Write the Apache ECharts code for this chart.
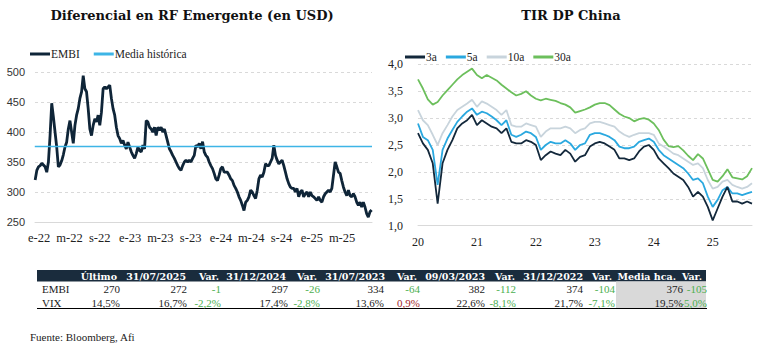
<!DOCTYPE html>
<html><head><meta charset="utf-8">
<script src="https://cdn.jsdelivr.net/npm/echarts@6/dist/echarts.min.js"></script>
<style>html,body{margin:0;padding:0;background:#fff}#c{width:757px;height:362px}</style>
</head><body><div id="c"></div>
<script>
// ---------- Left chart: EMBI spread ----------
const embiTickLabels = ['e-22','m-22','s-22','e-23','m-23','s-23','e-24','m-24','s-24','e-25','m-25'];
const embiTickMonths = [0,4,8,12,16,20,24,28,32,36,40];
const embiFirstMonth = -0.53;   // mid-Dec 2021
const embiLastMonth = 43.9;     // mid-Aug 2025
const embiValues = [
320,336,342,344,348,345,342,333,350,394,448,425,400,375,342,345,352,362,375,383,405,419,400,381,
411,428,439,456,467,494,472,467,439,405,394,411,422,417,428,411,433,472,475,472,475,478,456,439,
428,408,394,389,381,386,378,372,383,375,367,361,356,364,375,369,367,378,372,419,417,408,405,400,
408,394,408,403,408,400,405,394,383,372,367,361,356,350,344,339,336,344,350,353,350,353,350,356,
361,378,375,381,372,384,367,361,358,350,344,339,331,322,319,328,339,342,333,333,333,328,322,319,
311,306,300,292,286,278,269,283,286,292,303,300,294,289,303,322,328,325,333,347,344,344,350,356,
378,361,353,347,350,353,344,333,322,314,308,306,306,300,306,292,300,303,292,297,300,292,300,294,
292,289,286,292,286,283,292,297,300,303,300,306,328,350,342,333,331,319,308,300,294,303,294,292,
297,292,283,278,283,275,283,275,264,258,267,270
];
const mediaHistorica = 376;

// ---------- Right chart: China government bond yields ----------
const tirTickLabels = ['20','21','22','23','24','25'];
const tirTickMonths = [0,12,24,36,48,60];
const tir3a = [2.72,2.53,2.41,2.16,1.41,2.16,2.41,2.59,2.81,2.90,2.96,3.06,2.87,2.96,2.90,2.84,2.81,2.72,2.81,2.56,
2.53,2.53,2.59,2.56,2.50,2.22,2.31,2.38,2.34,2.31,2.41,2.34,2.19,2.28,2.31,2.47,2.53,2.56,2.53,2.47,
2.41,2.25,2.25,2.22,2.25,2.38,2.47,2.50,2.41,2.25,2.16,2.07,1.97,1.91,1.85,1.72,1.54,1.63,1.54,1.35,
1.10,1.32,1.54,1.72,1.45,1.45,1.41,1.45,1.41];
const tir5a = [2.90,2.65,2.59,2.41,1.76,2.41,2.62,2.78,2.93,3.03,3.12,3.18,3.06,3.12,3.09,3.03,2.96,2.87,2.96,2.69,
2.65,2.69,2.75,2.72,2.65,2.41,2.50,2.56,2.53,2.53,2.59,2.53,2.41,2.50,2.53,2.69,2.72,2.72,2.69,2.65,
2.59,2.47,2.44,2.44,2.47,2.56,2.59,2.62,2.56,2.41,2.31,2.25,2.19,2.13,2.07,1.97,1.85,1.88,1.79,1.54,
1.35,1.48,1.66,1.72,1.60,1.60,1.57,1.60,1.63];
const tir10a = [3.15,2.96,2.87,2.69,2.50,2.72,2.87,3.03,3.15,3.21,3.27,3.34,3.21,3.31,3.27,3.21,3.15,3.06,3.15,2.87,
2.84,2.84,2.90,2.87,2.84,2.65,2.75,2.81,2.81,2.81,2.84,2.81,2.72,2.78,2.81,2.90,2.93,2.93,2.90,2.87,
2.84,2.75,2.69,2.65,2.69,2.72,2.72,2.72,2.69,2.53,2.47,2.41,2.34,2.31,2.25,2.19,2.13,2.16,2.07,1.85,
1.69,1.72,1.82,1.85,1.76,1.72,1.69,1.72,1.79];
const tir30a = [3.72,3.55,3.35,3.25,3.30,3.42,3.52,3.62,3.72,3.80,3.86,3.92,3.80,3.74,3.80,3.75,3.70,3.62,3.55,3.48,
3.42,3.45,3.50,3.42,3.36,3.33,3.36,3.34,3.32,3.28,3.25,3.20,3.10,3.13,3.16,3.20,3.25,3.28,3.28,3.24,
3.16,3.08,3.03,3.00,2.94,2.98,3.00,2.97,2.90,2.78,2.60,2.48,2.46,2.48,2.40,2.30,2.22,2.33,2.25,2.05,
1.85,1.82,1.92,2.05,1.90,1.88,1.86,1.92,2.07];

// ---------- Table ----------
const tableHeader = ['Último','31/07/2025','Var.','31/12/2024','Var.','31/07/2023','Var.','09/03/2023','Var.','31/12/2022','Var.','Media hca.','Var.'];
const tableRowNames = ['EMBI','VIX'];
const tableEMBI = ['270','272','-1','297','-26','334','-64','382','-112','374','-104','376','-105'];
const tableVIX = ['14,5%','16,7%','-2,2%','17,4%','-2,8%','13,6%','0,9%','22,6%','-8,1%','21,7%','-7,1%','19,5%','-5,0%'];
const sourceText = 'Fuente: Bloomberg, Afi';

// ---------- build ----------
const embiStep = (embiLastMonth - embiFirstMonth) / (embiValues.length - 1);
const embiData = embiValues.map((v, i) => [embiFirstMonth + i * embiStep, v]);
const tirData = arr => arr.map((v, i) => [i, v]);

const SERIF = '"Liberation Serif", serif';
const SLAB = '"DejaVu Serif", serif';
const SANS = '"Liberation Sans", Arial, sans-serif';
const gridLine = { show: true, lineStyle: { color: '#d9d9d9', type: [3, 3], width: 1 } };

const headerRight = [117,186,219,286,317,385,417,485,515,583,612,676,702];
const dataRight = [120,187,221,288,320,384,420,485,516,583,615,683,707];

const graphics = [];
graphics.push({ type: 'rect', shape: { x: 37, y: 270, width: 669, height: 11.5 }, style: { fill: '#1a2c3d' }, silent: true });
graphics.push({ type: 'rect', shape: { x: 616, y: 281.5, width: 90, height: 27 }, style: { fill: '#d9d9d9' }, silent: true });
graphics.push({ type: 'line', shape: { x1: 37, y1: 308.5, x2: 707, y2: 308.5 }, style: { stroke: '#000', lineWidth: 1 }, silent: true });
tableHeader.forEach((t, i) => graphics.push({ type: 'text', x: headerRight[i], y: 276,
  style: { text: t, align: 'right', verticalAlign: 'middle', fill: '#fff', fontFamily: SLAB, fontWeight: 'bold', fontSize: 9.5 } }));
[tableEMBI, tableVIX].forEach((row, r) => {
  const y = r === 0 ? 289 : 303;
  graphics.push({ type: 'text', x: 42, y, style: { text: tableRowNames[r], align: 'left', verticalAlign: 'middle', fill: '#222', fontFamily: SERIF, fontSize: 11 } });
  row.forEach((t, i) => {
    let fill = '#222';
    if (tableHeader[i] === 'Var.') fill = t.trim().startsWith('-') ? '#4caf50' : '#a3262b';
    graphics.push({ type: 'text', x: dataRight[i], y, style: { text: t, align: 'right', verticalAlign: 'middle', fill, fontFamily: SERIF, fontSize: 11 } });
  });
});
graphics.push({ type: 'text', x: 30, y: 337, style: { text: sourceText, align: 'left', verticalAlign: 'middle', fill: '#222', fontFamily: SERIF, fontSize: 11 } });

const chart = echarts.init(document.getElementById('c'), null, { renderer: 'svg' });
chart.setOption({
  animation: false,
  backgroundColor: '#fff',
  title: [
    { text: 'Diferencial en RF Emergente (en USD)', left: 187, top: 4, textAlign: 'center',
      textStyle: { fontFamily: SLAB, fontWeight: 'bold', fontSize: 13, color: '#111' } },
    { text: 'TIR DP China', left: 566, top: 4, textAlign: 'center',
      textStyle: { fontFamily: SLAB, fontWeight: 'bold', fontSize: 13, color: '#111' } }
  ],
  legend: [
    { data: ['EMBI', 'Media histórica'], left: 25, top: 43, itemWidth: 20, itemHeight: 3, itemGap: 14, icon: 'rect',
      textStyle: { fontFamily: SERIF, fontSize: 11.5, color: '#222', padding: [0, 0, 0, -4] } },
    { data: ['3a', '5a', '10a', '30a'], left: 400, top: 46, itemWidth: 20, itemHeight: 3, itemGap: 9, icon: 'rect',
      textStyle: { fontFamily: SERIF, fontSize: 11.5, color: '#222', padding: [0, 0, 0, -4] } }
  ],
  grid: [
    { left: 35, right: 385, top: 72, height: 150 },
    { left: 418, right: 5, top: 64.3, height: 161.4 }
  ],
  xAxis: [
    { type: 'value', gridIndex: 0, min: -0.55, max: 43.95,
      axisLine: { show: true, lineStyle: { color: '#d9d9d9' } }, axisTick: { show: false }, splitLine: { show: false },
      axisLabel: { customValues: embiTickMonths, formatter: v => embiTickLabels[embiTickMonths.indexOf(Math.round(v))] || '',
        fontFamily: SERIF, fontSize: 12.5, color: '#222', margin: 9 } },
    { type: 'value', gridIndex: 1, min: 0, max: 68,
      axisLine: { show: true, lineStyle: { color: '#d9d9d9' } }, axisTick: { show: false }, splitLine: { show: false },
      axisLabel: { customValues: tirTickMonths, formatter: v => tirTickLabels[tirTickMonths.indexOf(Math.round(v))] || '',
        fontFamily: SERIF, fontSize: 12, color: '#222', margin: 10 } }
  ],
  yAxis: [
    { type: 'value', gridIndex: 0, min: 250, max: 500, interval: 50,
      axisLine: { show: false }, axisTick: { show: false }, splitLine: gridLine,
      axisLabel: { fontFamily: SANS, fontSize: 11, color: '#333', margin: 10 } },
    { type: 'value', gridIndex: 1, min: 1, max: 4, interval: 0.5,
      axisLine: { show: false }, axisTick: { show: false }, splitLine: gridLine,
      axisLabel: { fontFamily: SERIF, fontSize: 12, color: '#222', margin: 15, formatter: v => v.toFixed(1).replace('.', ',') } }
  ],
  series: [
    { name: 'EMBI', type: 'line', xAxisIndex: 0, yAxisIndex: 0, data: embiData, showSymbol: false,
      lineStyle: { color: '#0f2538', width: 2.8 }, itemStyle: { color: '#0f2538' }, z: 3 },
    { name: 'Media histórica', type: 'line', xAxisIndex: 0, yAxisIndex: 0,
      data: [[embiFirstMonth - 0.05, mediaHistorica], [embiLastMonth + 0.05, mediaHistorica]], showSymbol: false,
      lineStyle: { color: '#3db5e6', width: 1.5 }, itemStyle: { color: '#3db5e6' }, z: 4 },
    { name: '30a', type: 'line', xAxisIndex: 1, yAxisIndex: 1, data: tirData(tir30a), showSymbol: false,
      lineStyle: { color: '#6cbf5c', width: 1.8 }, itemStyle: { color: '#6cbf5c' }, z: 2 },
    { name: '10a', type: 'line', xAxisIndex: 1, yAxisIndex: 1, data: tirData(tir10a), showSymbol: false,
      lineStyle: { color: '#c8d4dc', width: 1.8 }, itemStyle: { color: '#c8d4dc' }, z: 3 },
    { name: '5a', type: 'line', xAxisIndex: 1, yAxisIndex: 1, data: tirData(tir5a), showSymbol: false,
      lineStyle: { color: '#2aa8df', width: 1.8 }, itemStyle: { color: '#2aa8df' }, z: 4 },
    { name: '3a', type: 'line', xAxisIndex: 1, yAxisIndex: 1, data: tirData(tir3a), showSymbol: false,
      lineStyle: { color: '#13283b', width: 1.8 }, itemStyle: { color: '#13283b' }, z: 5 }
  ],
  graphic: graphics
});
</script></body></html>
